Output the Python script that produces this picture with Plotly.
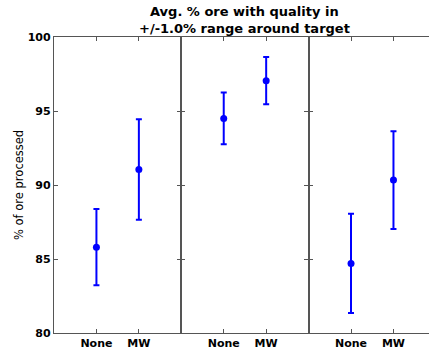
import plotly.graph_objects as go

# Average % of ore within +/-1.0% of target quality, per scenario panel
categories = ["None", "MW"]
panel1_mean = [85.8, 91.05]
panel1_err = [2.57, 3.4]
panel2_mean = [94.5, 97.05]
panel2_err = [1.75, 1.6]
panel3_mean = [84.7, 90.33]
panel3_err = [3.35, 3.3]

y_ticks = [80, 85, 90, 95, 100]
title_lines = ["Avg. % ore with quality in", "+/-1.0% range around target"]
y_label = "% of ore processed"

W, H = 429, 350
left_px, top_px, bottom_px = 54, 37, 333
panel_px = 127.3
blue = "#0000ff"
spine = "#555555"
font_family = "DejaVu Sans, Liberation Sans, sans-serif"

panels = [(panel1_mean, panel1_err), (panel2_mean, panel2_err), (panel3_mean, panel3_err)]

fig = go.Figure()
xpos = list(range(len(categories)))

for i, (means, errs) in enumerate(panels):
    x0 = left_px + i * panel_px
    x1 = min(x0 + panel_px, W)
    d0 = x0 / W
    d1 = min(x1 / W, 1.0)
    # keep unit scale identical across panels even when the last is clipped
    span = 3 * (x1 - x0) / panel_px
    suffix = "" if i == 0 else str(i + 1)
    fig.add_trace(go.Scatter(
        x=xpos, y=means,
        mode="markers",
        marker=dict(color=blue, size=7, symbol="circle"),
        error_y=dict(type="data", array=errs, visible=True,
                     color=blue, thickness=2, width=3),
        xaxis="x" + suffix, yaxis="y" + suffix,
        showlegend=False, cliponaxis=False,
    ))
    last = i == len(panels) - 1
    fig.layout["xaxis" + suffix] = dict(
        domain=[d0, d1], range=[-1, -1 + span], anchor="y" + suffix,
        tickvals=xpos, ticktext=categories, automargin=False,
        ticks="inside", ticklen=4, tickcolor=spine, tickwidth=1,
        mirror="allticks", showline=True, linecolor=spine, linewidth=1.3,
        showgrid=False, zeroline=False, fixedrange=True,
        tickfont=dict(family=font_family, size=11, color="#000000", weight="bold"),
    )
    fig.layout["yaxis" + suffix] = dict(
        domain=[1 - bottom_px / H, 1 - top_px / H], range=[80, 100],
        anchor="x" + suffix, automargin=False,
        tickvals=y_ticks, showticklabels=(i == 0),
        ticks="inside", ticklen=4, tickcolor=spine, tickwidth=1,
        mirror=(False if last else "allticks"),
        showline=True, linecolor=spine, linewidth=1.3,
        showgrid=False, zeroline=False, fixedrange=True,
        tickfont=dict(family=font_family, size=11, color="#000000", weight="bold"),
    )

# two-line bold title, centred over the full plotting area
title_x = (left_px + (left_px + 3 * panel_px)) / 2 / W
for k, line in enumerate(title_lines):
    fig.add_annotation(
        text="<b>" + line + "</b>",
        xref="paper", yref="paper", x=title_x, y=1 - (12 + 17 * k) / H,
        xanchor="center", yanchor="middle", showarrow=False, borderpad=0,
        font=dict(family=font_family, size=13, color="#000000"),
    )

fig.add_annotation(
    text=y_label, textangle=-90,
    xref="paper", yref="paper", x=19 / W, y=1 - 185 / H,
    xanchor="center", yanchor="middle", showarrow=False,
    font=dict(family=font_family, size=11.5, color="#000000"),
)

fig.update_layout(
    width=W, height=H,
    margin=dict(l=0, r=0, t=0, b=0, pad=0, autoexpand=False),
    paper_bgcolor="white", plot_bgcolor="white",
)

fig.write_html("out.html")
